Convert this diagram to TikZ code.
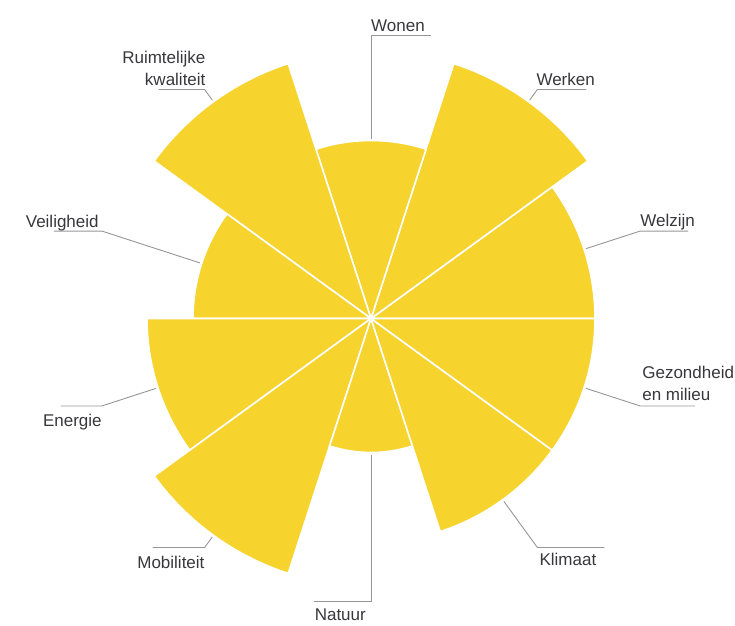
\documentclass[tikz,border=0pt]{standalone}
\usepackage{fontspec}
\setmainfont{Liberation Sans}
\usetikzlibrary{calc}

\definecolor{petalyellow}{RGB}{246,211,45}
\definecolor{leadergray}{RGB}{150,150,150}
\definecolor{textgray}{RGB}{55,55,60}

\begin{document}
\begin{tikzpicture}[
    x=1pt, y=1pt,
    petal/.style={fill=petalyellow, draw=white, line width=1.6pt, line join=round},
    leader/.style={draw=leadergray, line width=0.9pt},
    lbl/.style={font=\fontsize{17}{22}\selectfont, text=textgray, inner sep=0pt}
]
\useasboundingbox (-371,-306.5) rectangle (364,318.5);

% Petals of the rose, counter-clockwise from the right
\fill[petal] (0,0) -- (0:224pt) arc[start angle=0, end angle=36, radius=224pt] -- cycle;
\fill[petal] (0,0) -- (36:268pt) arc[start angle=36, end angle=72, radius=268pt] -- cycle;
\fill[petal] (0,0) -- (72:178pt) arc[start angle=72, end angle=108, radius=178pt] -- cycle;
\fill[petal] (0,0) -- (108:268pt) arc[start angle=108, end angle=144, radius=268pt] -- cycle;
\fill[petal] (0,0) -- (144:178pt) arc[start angle=144, end angle=180, radius=178pt] -- cycle;
\fill[petal] (0,0) -- (180:224pt) arc[start angle=180, end angle=216, radius=224pt] -- cycle;
\fill[petal] (0,0) -- (216:268pt) arc[start angle=216, end angle=252, radius=268pt] -- cycle;
\fill[petal] (0,0) -- (252:134pt) arc[start angle=252, end angle=288, radius=134pt] -- cycle;
\fill[petal] (0,0) -- (288:224pt) arc[start angle=288, end angle=324, radius=224pt] -- cycle;
\fill[petal] (0,0) -- (324:224pt) arc[start angle=324, end angle=360, radius=224pt] -- cycle;

% Leader points: on the arc, elbow, end of the flat part
\coordinate (welzijnA) at (18:226pt);  \coordinate (welzijnB) at (18:283pt);  \coordinate (welzijnC) at ($(welzijnB)+(48,0)$);
\coordinate (werkenA) at (54:270pt);   \coordinate (werkenB) at (54:283pt);   \coordinate (werkenC) at ($(werkenB)+(49,0)$);
\coordinate (wonenA) at (90:180pt);    \coordinate (wonenB) at (90:283pt);    \coordinate (wonenC) at ($(wonenB)+(60,0)$);
\coordinate (ruimteA) at (126:270pt);  \coordinate (ruimteB) at (126:283pt);  \coordinate (ruimteC) at ($(ruimteB)+(-46,0)$);
\coordinate (veiligA) at (162:180pt);  \coordinate (veiligB) at (162:283pt);  \coordinate (veiligC) at ($(veiligB)+(-48,0)$);
\coordinate (energieA) at (198:226pt); \coordinate (energieB) at (198:283pt); \coordinate (energieC) at ($(energieB)+(-41,0)$);
\coordinate (mobiA) at (234:270pt);    \coordinate (mobiB) at (234:283pt);    \coordinate (mobiC) at ($(mobiB)+(-52,0)$);
\coordinate (natuurA) at (270:136pt);  \coordinate (natuurB) at (270:283pt);  \coordinate (natuurC) at ($(natuurB)+(-57,0)$);
\coordinate (klimaatA) at (306:226pt); \coordinate (klimaatB) at (306:283pt); \coordinate (klimaatC) at ($(klimaatB)+(67,0)$);
\coordinate (gezondA) at (342:226pt);  \coordinate (gezondB) at (342:283pt);  \coordinate (gezondC) at ($(gezondB)+(55,0)$);

% Leaders
\draw[leader] (welzijnA) -- (welzijnB) -- (welzijnC);
\draw[leader] (werkenA) -- (werkenB) -- (werkenC);
\draw[leader] (wonenA) -- (wonenB) -- (wonenC);
\draw[leader] (ruimteA) -- (ruimteB) -- (ruimteC);
\draw[leader] (veiligA) -- (veiligB) -- (veiligC);
\draw[leader] (energieA) -- (energieB) -- (energieC);
\draw[leader] (mobiA) -- (mobiB) -- (mobiC);
\draw[leader] (natuurA) -- (natuurB) -- (natuurC);
\draw[leader] (klimaatA) -- (klimaatB) -- (klimaatC);
\draw[leader] (gezondA) -- (gezondB) -- (gezondC);

% Labels
\node[lbl, anchor=base west] (welzijn) at ($(welzijnB)+(0,5)$) {Welzijn};
\node[lbl, anchor=base west] (werken) at ($(werkenB)+(-1,4)$) {Werken};
\node[lbl, anchor=base west] (wonen) at ($(wonenB)+(0,4)$) {Wonen};
\node[lbl, anchor=south east, align=right] (ruimte) at ($(ruimteB)+(1,4)$) {Ruimtelijke\\kwaliteit};
\node[lbl, anchor=base east] (veilig) at ($(veiligB)+(-3,4)$) {Veiligheid};
\node[lbl, anchor=north east] (energie) at ($(energieB)+(0,-8)$) {Energie};
\node[lbl, anchor=north east] (mobi) at ($(mobiB)+(0,-9)$) {Mobiliteit};
\node[lbl, anchor=north east] (natuur) at ($(natuurB)+(-5,-7.5)$) {Natuur};
\node[lbl, anchor=north west] (klimaat) at ($(klimaatB)+(2,-6)$) {Klimaat};
\node[lbl, anchor=south west, align=left] (gezond) at ($(gezondB)+(2,5)$) {Gezondheid\\en milieu};

\end{tikzpicture}
\end{document}
